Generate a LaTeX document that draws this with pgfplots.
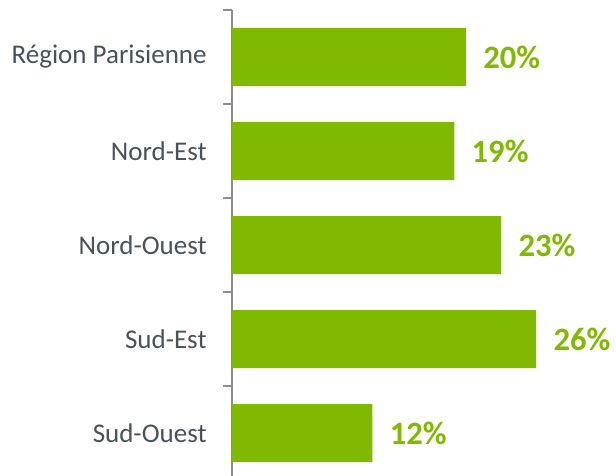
\documentclass[border=0pt]{standalone}
\usepackage{fontspec}
\setmainfont{Carlito}
\usepackage{pgfplots}
\pgfplotsset{compat=1.18}
\definecolor{barGreen}{HTML}{7FBA00}
\definecolor{labGray}{HTML}{47525C}
\definecolor{axGray}{HTML}{8C8C8C}
\begin{document}
\begin{tikzpicture}
\begin{axis}[
  x=5.85pt, y=47pt,
  y dir=reverse,
  xmin=0, xmax=33,
  ymin=-0.5, ymax=4.5,
  axis x line=none,
  axis y line=left,
  y axis line style={-, color=axGray, line width=0.8pt},
  ytick={0,1,2,3,4},
  yticklabels={Région Parisienne, Nord-Est, Nord-Ouest, Sud-Est, Sud-Ouest},
  major tick length=0pt,
  minor ytick={-0.5,0.5,1.5,2.5,3.5,4.5},
  minor tick length=4.5pt,
  tick align=outside,
  minor tick style={color=axGray, line width=0.8pt},
  yticklabel style={font=\fontsize{13.5}{16}\selectfont, color=labGray, inner sep=0pt, xshift=-12.5pt},
  /pgf/number format/assume math mode=true,
  clip=false,
  nodes near coords={\pgfmathprintnumber{\pgfplotspointmeta}\%},
  point meta=x,
  every node near coord/.append style={font=\bfseries\fontsize{16.3}{19}\selectfont, color=barGreen, anchor=west, inner sep=0pt, xshift=8.5pt},
]
\addplot[xbar, fill=barGreen, draw=none, bar width=29pt] coordinates {(20,0) (19,1) (23,2) (26,3) (12,4)};
\coordinate (top) at (axis cs:0,-0.5);
\end{axis}
\pgfresetboundingbox
\path[use as bounding box] (top) ++(-116pt,5pt) rectangle ++(308pt,-238pt);
\end{tikzpicture}
\end{document}
